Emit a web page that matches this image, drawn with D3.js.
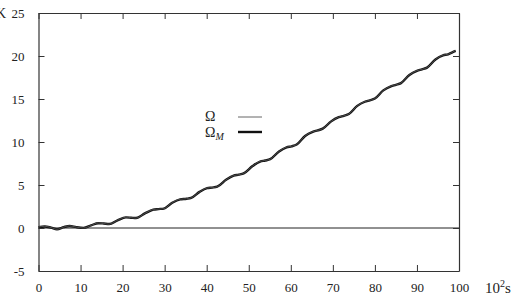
<!DOCTYPE html>
<html>
<head>
<meta charset="utf-8">
<script src="https://cdn.jsdelivr.net/npm/d3@7"></script>
<style>
	body { margin: 0; background: #fff; }
	svg text { font-family: "Liberation Serif", "DejaVu Serif", serif; fill: #222; }
</style>
</head>
<body>
<svg id="chart" width="514" height="305"></svg>
<script>

// time in units of 10^2 s, angle in K
let timeVals = [0, 1.5, 3, 4.4, 6, 7.4, 9, 10.7, 12.5, 14.2, 15.5, 16.8, 18.8, 20.8, 22, 23.2,
	25.3, 27.3, 28.5, 29.8, 31.8, 33.7, 35.2, 36.3, 38.3, 40.1, 41.3, 42.5, 44.6, 46.4, 47.6, 48.8,
	50.9, 52.7, 53.9, 55.1, 57.2, 59, 60.2, 61.4, 63.4, 65.2, 66.4, 67.6, 69.6, 71.4, 72.6, 73.8,
	75.8, 77.6, 78.8, 80, 82, 83.8, 85, 86.2, 88.2, 90, 91.2, 92.4, 94.4, 96.2, 97.4, 98.3, 99.2];

let omegaVals = [0.12, 0.2, 0.05, -0.15, 0.1, 0.25, 0.1, 0.0, 0.3, 0.58, 0.52, 0.45, 0.9, 1.25, 1.2, 1.15,
	1.7, 2.15, 2.2, 2.25, 2.95, 3.35, 3.4, 3.5, 4.2, 4.65, 4.7, 4.8, 5.6, 6.1, 6.2, 6.35,
	7.2, 7.75, 7.85, 8.0, 8.9, 9.4, 9.5, 9.7, 10.7, 11.2, 11.35, 11.55, 12.4, 12.9, 13.05, 13.25,
	14.2, 14.7, 14.85, 15.05, 16.0, 16.5, 16.65, 16.85, 17.8, 18.3, 18.45, 18.65, 19.6, 20.1, 20.2, 20.4, 20.65];

let omegaMVals = [0.1, 0.18, 0.04, -0.14, 0.1, 0.24, 0.1, 0.02, 0.3, 0.56, 0.52, 0.46, 0.9, 1.23, 1.2, 1.16,
	1.7, 2.13, 2.2, 2.26, 2.93, 3.33, 3.4, 3.5, 4.2, 4.63, 4.7, 4.8, 5.6, 6.08, 6.2, 6.35,
	7.2, 7.73, 7.85, 8.0, 8.9, 9.38, 9.5, 9.7, 10.7, 11.18, 11.35, 11.55, 12.4, 12.88, 13.05, 13.25,
	14.2, 14.68, 14.85, 15.05, 16.0, 16.48, 16.65, 16.85, 17.8, 18.28, 18.45, 18.65, 19.6, 20.08, 20.2, 20.4, 20.6];

let xTicks = [0, 10, 20, 30, 40, 50, 60, 70, 80, 90, 100];
let yTicks = [-5, 0, 5, 10, 15, 20, 25];

let svg = d3.select("#chart");
let margin = { top: 13, right: 55, bottom: 34, left: 38.5 };
let width = 514 - margin.left - margin.right;
let height = 305 - margin.top - margin.bottom;

let x = d3.scaleLinear().domain([0, 100]).range([0, width]);
let y = d3.scaleLinear().domain([-5, 25]).range([height, 0]);

let g = svg.append("g")
	.attr("transform", "translate(" + margin.left + "," + margin.top + ")");

// zero line
g.append("line")
	.attr("x1", 0).attr("x2", width)
	.attr("y1", y(0)).attr("y2", y(0))
	.attr("stroke", "#222").attr("stroke-width", 1);

// axes: inward ticks on all four sides
let serif = "'Liberation Serif', 'DejaVu Serif', serif";
function plain(d) { return String(d); }   // hyphen minus like the original

function styleAxis(sel) {
	sel.attr("font-family", serif).attr("font-size", 13);
	sel.select(".domain").attr("stroke", "#333").attr("stroke-width", 1.2);
	sel.selectAll(".tick line").attr("stroke", "#333");
	sel.selectAll(".tick text").attr("fill", "#222");
}

g.append("g")
	.attr("transform", "translate(0," + height + ")")
	.call(d3.axisBottom(x).tickValues(xTicks).tickFormat(plain).tickSizeInner(-6).tickSizeOuter(0).tickPadding(12))
	.call(styleAxis);

g.append("g")
	.call(d3.axisTop(x).tickValues(xTicks).tickSizeInner(-6).tickSizeOuter(0).tickFormat(""))
	.call(styleAxis);

g.append("g")
	.call(d3.axisLeft(y).tickValues(yTicks).tickFormat(plain).tickSizeInner(-6).tickSizeOuter(0).tickPadding(14))
	.call(styleAxis);

g.append("g")
	.attr("transform", "translate(" + width + ",0)")
	.call(d3.axisRight(y).tickValues(yTicks).tickSizeInner(-6).tickSizeOuter(0).tickFormat(""))
	.call(styleAxis);

// unit labels ("K" is clipped at the left edge in the original too)
svg.append("text")
	.attr("x", 6).attr("y", 18)
	.attr("text-anchor", "end")
	.style("font-size", "14px")
	.text("K");

let sLabel = svg.append("text")
	.attr("x", 485).attr("y", 293)
	.style("font-size", "15px");
sLabel.append("tspan").text("10");
sLabel.append("tspan").attr("dy", -6).style("font-size", "10px").text("2");
sLabel.append("tspan").attr("dy", 6).text("s");

// curves
let line = d3.line()
	.x(function (d) { return x(d[0]); })
	.y(function (d) { return y(d[1]); })
	.curve(d3.curveMonotoneX);

let omegaM = timeVals.map(function (t, i) { return [t, omegaMVals[i]]; });
let omega = timeVals.map(function (t, i) { return [t, omegaVals[i]]; });

g.append("path")
	.datum(omegaM)
	.attr("fill", "none")
	.attr("stroke", "#111")
	.attr("stroke-width", 2.4)
	.attr("d", line);

g.append("path")
	.datum(omega)
	.attr("fill", "none")
	.attr("stroke", "#555")
	.attr("stroke-width", 0.9)
	.attr("d", line);

// legend
let legend = svg.append("g").attr("transform", "translate(205,0)");

legend.append("text")
	.attr("x", 0).attr("y", 121)
	.style("font-size", "14px")
	.text("Ω");
legend.append("line")
	.attr("x1", 33).attr("x2", 57)
	.attr("y1", 117).attr("y2", 117)
	.attr("stroke", "#555").attr("stroke-width", 0.9);

let omLabel = legend.append("text")
	.attr("x", 0).attr("y", 137)
	.style("font-size", "14px");
omLabel.append("tspan").text("Ω");
omLabel.append("tspan").attr("dy", 3).style("font-size", "10px").style("font-style", "italic").text("M");
legend.append("line")
	.attr("x1", 33).attr("x2", 57)
	.attr("y1", 132).attr("y2", 132)
	.attr("stroke", "#111").attr("stroke-width", 2.4);

</script>
</body>
</html>
